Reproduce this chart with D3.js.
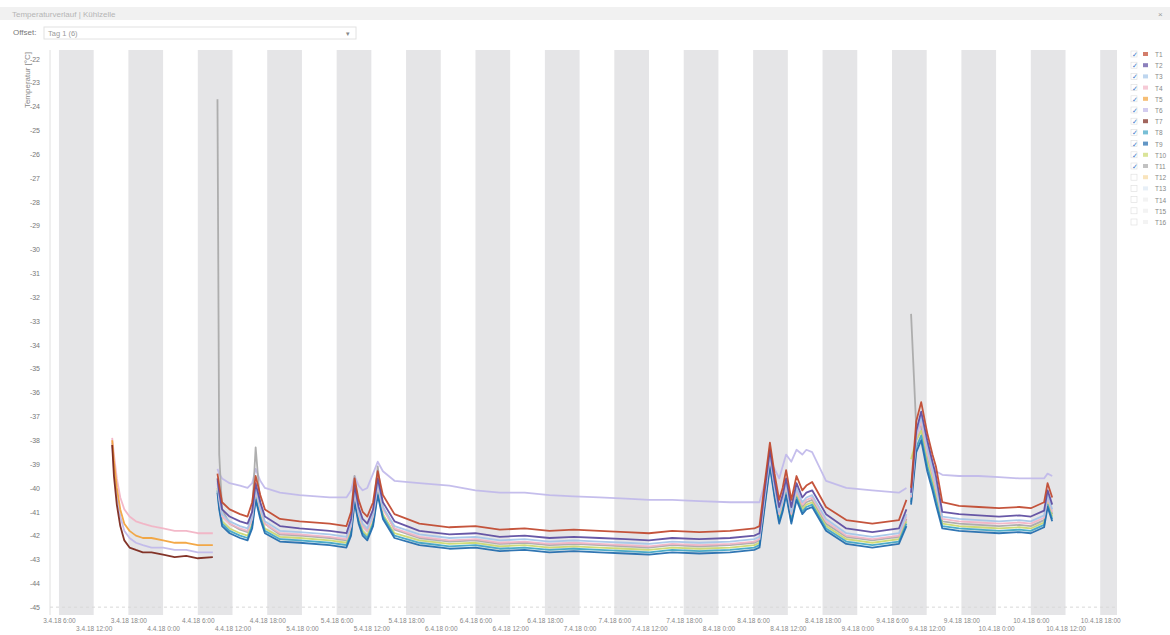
<!DOCTYPE html>
<html>
<head>
<meta charset="utf-8">
<script src="https://cdn.jsdelivr.net/npm/d3@7"></script>
<style>
  body { margin: 0; background: #fff; font-family: "Liberation Sans", Arial, sans-serif; }
</style>
</head>
<body>
<svg id="chart" width="1170" height="635"></svg>
<script>
// hours after 3.4.18 0:00 (UTC)
const tA = [15.2, 15.5, 16.0, 16.6, 17.3, 18.2, 19.3, 20.5, 22, 24, 26, 28, 30, 32.6];
const tB = [33.4, 33.7, 34.2, 35.5, 37.3, 38.6, 39.4, 40.0, 40.8, 41.6,
            44.2, 47.6, 52.8, 55.7, 56.5, 57.1, 57.8, 58.5, 59.3, 60.3, 61.1, 62.0,
            64.0, 68.3, 73.5, 78.0, 82.2, 86.5, 90.8, 95.0, 99.4, 104.0, 108.0, 112.0, 116.7, 122.0, 126.2,
            127.1, 128.0, 128.9, 129.7, 130.5, 131.1, 131.7, 132.6, 133.5, 134.5, 135.2, 136.2, 138.6, 142.1, 146.6, 151.2, 152.5];
const tC = [153.3, 154.2, 155.05, 156.1, 157.0, 157.6, 158.7, 161.6, 165, 168.5, 172, 174, 176.3, 176.9, 177.7];

// first run
const pinkA     = [-37.9, -38.6, -39.6, -40.4, -40.9, -41.2, -41.4, -41.5, -41.6, -41.7, -41.8, -41.8, -41.9, -41.9];
const orangeA   = [-38.0, -38.9, -40.0, -40.9, -41.5, -41.8, -42.0, -42.1, -42.1, -42.2, -42.3, -42.3, -42.4, -42.4];
const lavenderA = [-38.1, -39.2, -40.3, -41.2, -41.8, -42.1, -42.3, -42.4, -42.5, -42.5, -42.6, -42.6, -42.7, -42.7];
const maroonA   = [-38.2, -39.5, -40.7, -41.6, -42.2, -42.5, -42.6, -42.7, -42.7, -42.8, -42.9, -42.85, -42.95, -42.9];

// second run
const redB = [-39.4, -39.9, -40.6, -40.9, -41.1, -41.2, -40.6, -39.5, -40.3, -40.9,
  -41.3, -41.4, -41.5, -41.6, -41.0, -39.6, -40.5, -41.0, -41.2, -40.6, -39.3, -40.3,
  -41.1, -41.5, -41.65, -41.6, -41.75, -41.7, -41.8, -41.75, -41.8, -41.85, -41.9, -41.8, -41.85, -41.8, -41.7,
  -41.6, -39.8, -38.1, -39.4, -40.5, -40.0, -39.25, -40.5, -39.5, -40.1, -39.9, -39.75, -40.8, -41.35, -41.5, -41.35, -40.5];
const indigoB = [-39.6, -40.2, -40.9, -41.2, -41.4, -41.5, -41.0, -39.8, -40.6, -41.2,
  -41.6, -41.7, -41.8, -41.9, -41.3, -39.9, -40.8, -41.3, -41.5, -40.9, -39.6, -40.6,
  -41.4, -41.8, -41.95, -41.9, -42.05, -42.0, -42.1, -42.05, -42.1, -42.15, -42.2, -42.1, -42.15, -42.1, -42.0,
  -41.9, -40.1, -38.4, -39.7, -40.8, -40.3, -39.6, -40.8, -39.8, -40.4, -40.2, -40.1, -41.1, -41.7, -41.85, -41.7, -40.9];
const lightBlueB = [-39.7, -40.4, -41.1, -41.4, -41.6, -41.7, -41.2, -40.0, -40.8, -41.4,
  -41.8, -41.85, -41.95, -42.05, -41.5, -40.1, -41.0, -41.5, -41.7, -41.1, -39.8, -40.8,
  -41.6, -41.95, -42.1, -42.05, -42.2, -42.15, -42.25, -42.2, -42.25, -42.3, -42.35, -42.25, -42.3, -42.25, -42.15,
  -42.05, -40.3, -38.6, -39.9, -41.0, -40.5, -39.8, -41.0, -40.0, -40.6, -40.4, -40.3, -41.3, -41.9, -42.05, -41.9, -41.1];
const pinkB = [-39.8, -40.5, -41.2, -41.5, -41.7, -41.8, -41.3, -40.1, -40.9, -41.5,
  -41.9, -41.95, -42.05, -42.15, -41.6, -40.2, -41.1, -41.6, -41.8, -41.2, -39.9, -40.9,
  -41.7, -42.05, -42.2, -42.15, -42.3, -42.25, -42.35, -42.3, -42.35, -42.4, -42.45, -42.35, -42.4, -42.35, -42.25,
  -42.15, -40.4, -38.7, -40.0, -41.1, -40.6, -39.9, -41.1, -40.1, -40.7, -40.5, -40.4, -41.4, -42.0, -42.15, -42.0, -41.2];
const greyB = [-23.7, -38.6, -40.9, -41.5, -41.75, -41.85, -41.0, -38.3, -40.7, -41.5,
  -41.95, -42.0, -42.1, -42.2, -41.5, -39.5, -41.0, -41.6, -41.8, -41.0, -39.1, -40.8,
  -41.75, -42.1, -42.25, -42.2, -42.35, -42.3, -42.4, -42.35, -42.4, -42.45, -42.5, -42.4, -42.45, -42.4, -42.3,
  -42.2, -40.2, -38.3, -40.0, -41.2, -40.6, -39.9, -41.2, -40.1, -40.8, -40.6, -40.5, -41.5, -42.05, -42.2, -42.05, -41.3];
const limeB = [-40.0, -40.7, -41.4, -41.7, -41.9, -42.0, -41.5, -40.3, -41.1, -41.7,
  -42.05, -42.1, -42.2, -42.3, -41.8, -40.4, -41.3, -41.8, -42.0, -41.4, -40.1, -41.1,
  -41.9, -42.2, -42.35, -42.3, -42.45, -42.4, -42.5, -42.45, -42.5, -42.55, -42.6, -42.5, -42.55, -42.5, -42.4,
  -42.3, -40.6, -38.9, -40.2, -41.3, -40.8, -40.1, -41.3, -40.3, -40.9, -40.7, -40.6, -41.6, -42.15, -42.3, -42.15, -41.4];
const tealB = [-40.1, -40.8, -41.5, -41.8, -42.0, -42.1, -41.6, -40.4, -41.2, -41.8,
  -42.15, -42.2, -42.3, -42.4, -41.9, -40.5, -41.4, -41.9, -42.1, -41.5, -40.2, -41.2,
  -42.0, -42.3, -42.45, -42.4, -42.55, -42.5, -42.6, -42.55, -42.6, -42.65, -42.7, -42.6, -42.65, -42.6, -42.5,
  -42.4, -40.7, -39.0, -40.3, -41.4, -40.9, -40.2, -41.4, -40.4, -41.0, -40.8, -40.7, -41.7, -42.25, -42.4, -42.25, -41.5];
const blueB = [-40.2, -40.9, -41.6, -41.9, -42.1, -42.2, -41.7, -40.5, -41.3, -41.9,
  -42.25, -42.3, -42.4, -42.5, -42.0, -40.6, -41.5, -42.0, -42.2, -41.6, -40.3, -41.3,
  -42.1, -42.4, -42.55, -42.5, -42.65, -42.6, -42.7, -42.65, -42.7, -42.75, -42.8, -42.7, -42.75, -42.7, -42.6,
  -42.5, -40.8, -39.1, -40.4, -41.5, -41.0, -40.3, -41.5, -40.5, -41.1, -40.9, -40.8, -41.8, -42.35, -42.5, -42.35, -41.6];
const lavenderB = [-39.2, -39.4, -39.6, -39.8, -39.9, -40.0, -39.8, -39.2, -39.7, -40.0,
  -40.2, -40.3, -40.4, -40.4, -40.1, -39.5, -39.9, -40.1, -40.0, -39.4, -38.9, -39.3,
  -39.7, -39.8, -39.9, -40.1, -40.2, -40.2, -40.3, -40.35, -40.4, -40.45, -40.5, -40.5, -40.55, -40.6, -40.6,
  -40.6, -39.8, -38.9, -39.2, -39.6, -39.1, -38.6, -38.9, -38.4, -38.6, -38.4, -38.5, -39.7, -40.0, -40.1, -40.2, -40.0];

// third run
const redC       = [-40.0, -37.2, -36.4, -37.7, -38.6, -39.1, -40.6, -40.75, -40.8, -40.85, -40.8, -40.85, -40.6, -39.8, -40.4];
const indigoC    = [-40.2, -37.6, -36.8, -38.0, -38.9, -39.5, -41.0, -41.1, -41.15, -41.2, -41.15, -41.2, -40.95, -40.1, -40.7];
const lightBlueC = [-40.3, -37.8, -37.0, -38.3, -39.2, -39.8, -41.2, -41.3, -41.35, -41.4, -41.35, -41.4, -41.15, -40.3, -40.9];
const pinkC      = [-40.4, -37.9, -37.2, -38.5, -39.4, -40.0, -41.3, -41.4, -41.45, -41.5, -41.45, -41.5, -41.25, -40.4, -41.0];
const greyC      = [-32.7, -37.5, -37.4, -38.7, -39.5, -40.1, -41.4, -41.5, -41.55, -41.6, -41.55, -41.6, -41.35, -40.5, -41.1];
const limeC      = [-38.8, -38.0, -37.6, -38.9, -39.7, -40.3, -41.5, -41.6, -41.65, -41.7, -41.65, -41.7, -41.45, -40.6, -41.2];
const tealC      = [-40.6, -38.3, -37.8, -39.1, -39.9, -40.5, -41.6, -41.7, -41.75, -41.8, -41.75, -41.8, -41.55, -40.7, -41.3];
const blueC      = [-40.7, -38.5, -38.0, -39.3, -40.1, -40.7, -41.7, -41.8, -41.85, -41.9, -41.85, -41.9, -41.65, -40.8, -41.4];
const lavenderC  = [-40.2, -38.0, -37.5, -38.2, -39.0, -39.3, -39.45, -39.5, -39.5, -39.55, -39.6, -39.6, -39.6, -39.4, -39.5];

const legendNames  = ['T1', 'T2', 'T3', 'T4', 'T5', 'T6', 'T7', 'T8', 'T9', 'T10', 'T11', 'T12', 'T13', 'T14', 'T15', 'T16'];
const legendColors = ['#c0462c', '#5b4aa0', '#a3c4e8', '#f2b3c4', '#f2a23a', '#c0b8ea', '#7a2418', '#3ea4c4',
                      '#1f6aad', '#cbd86e', '#a8a8a8', '#f6d9a0', '#dde8f4', '#eeeeee', '#eeeeee', '#eeeeee'];
const legendChecked = [true, true, true, true, true, true, true, true, true, true, true, false, false, false, false, false];
const yTicks = d3.range(-45, -21);

// draw order: back to front
const series = [
  { color: '#c0b8ea', parts: [[tA, lavenderA], [tB, lavenderB], [tC, lavenderC]] },
  { color: '#a8a8a8', parts: [[tB, greyB], [tC, greyC]] },
  { color: '#cbd86e', parts: [[tB, limeB], [tC, limeC]] },
  { color: '#3ea4c4', parts: [[tB, tealB], [tC, tealC]] },
  { color: '#1f6aad', parts: [[tB, blueB], [tC, blueC]] },
  { color: '#f2b3c4', parts: [[tA, pinkA], [tB, pinkB], [tC, pinkC]] },
  { color: '#f2a23a', parts: [[tA, orangeA]] },
  { color: '#7a2418', parts: [[tA, maroonA]] },
  { color: '#a3c4e8', parts: [[tB, lightBlueB], [tC, lightBlueC]] },
  { color: '#5b4aa0', parts: [[tB, indigoB], [tC, indigoC]] },
  { color: '#c0462c', parts: [[tB, redB], [tC, redC]] }
];

const base = Date.UTC(2018, 3, 3);
const toDate = h => new Date(base + h * 3600e3);

const margin = { top: 50, right: 53, bottom: 20, left: 50 };
const W = 1170, H = 635;
const svg = d3.select('#chart');

// header
svg.append('rect').attr('x', 0).attr('y', 7).attr('width', W).attr('height', 13).attr('fill', '#f1f1f1');
svg.append('text').attr('x', 12).attr('y', 17).attr('font-size', 8).attr('fill', '#b5b5b5')
  .text('Temperaturverlauf | Kühlzelle');
svg.append('text').attr('x', 1158).attr('y', 17).attr('font-size', 8).attr('fill', '#999').text('×');
svg.append('text').attr('x', 13).attr('y', 35).attr('font-size', 8).attr('fill', '#777').text('Offset:');
svg.append('rect').attr('x', 44).attr('y', 27).attr('width', 312).attr('height', 12)
  .attr('fill', '#fff').attr('stroke', '#e2e2e2');
svg.append('text').attr('x', 48).attr('y', 35.5).attr('font-size', 7.5).attr('fill', '#999').text('Tag 1 (6)');
svg.append('text').attr('x', 346).attr('y', 35.5).attr('font-size', 7).attr('fill', '#888').text('▾');

const x = d3.scaleUtc()
  .domain([toDate(4.45), toDate(188.9)])
  .range([margin.left, W - margin.right]);
const y = d3.scaleLinear()
  .domain([-45.33, -21.63])
  .range([H - margin.bottom, margin.top]);

// shaded 6-hour bands
const bands = [];
for (let day = 0; day < 8; day++) {
  bands.push([day * 24 + 6, day * 24 + 12]);
  bands.push([day * 24 + 18, day * 24 + 24]);
}
svg.append('g').selectAll('rect')
    .data(bands)
  .enter().append('rect')
    .attr('x', d => Math.max(x(toDate(d[0])), margin.left))
    .attr('width', d => Math.max(0, Math.min(x(toDate(d[1])), W - margin.right) - Math.max(x(toDate(d[0])), margin.left)))
    .attr('y', margin.top)
    .attr('height', H - margin.bottom - margin.top)
    .attr('fill', '#e5e5e7');

svg.append('line')
  .attr('x1', margin.left).attr('x2', margin.left)
  .attr('y1', margin.top).attr('y2', H - margin.bottom)
  .attr('stroke', '#e0e0e0');
svg.append('line')
  .attr('x1', margin.left).attr('x2', W - margin.right)
  .attr('y1', y(-45)).attr('y2', y(-45))
  .attr('stroke', '#d8d8d8').attr('stroke-dasharray', '3,3');

// y axis
const yAxis = d3.axisLeft(y).tickValues(yTicks).tickSize(0).tickPadding(10).tickFormat(d => String(d));
svg.append('g')
    .attr('transform', 'translate(' + margin.left + ',0)')
    .call(yAxis)
    .call(g => g.select('.domain').remove())
  .selectAll('text')
    .attr('font-size', 7)
    .attr('fill', '#777');

svg.append('text')
  .attr('transform', 'translate(30,52) rotate(-90)')
  .attr('text-anchor', 'end')
  .attr('font-size', 8)
  .attr('fill', '#888')
  .text('Temperatur [°C]');

// x axis, labels staggered on two rows
const fmt = d => d.getUTCDate() + '.' + (d.getUTCMonth() + 1) + '.18 ' + d.getUTCHours() + ':00';
const xAxis = d3.axisBottom(x).ticks(d3.utcHour.every(6)).tickSize(0).tickPadding(3).tickFormat(fmt);
svg.append('g')
    .attr('transform', 'translate(0,' + (H - margin.bottom) + ')')
    .call(xAxis)
    .call(g => g.select('.domain').remove())
  .selectAll('text')
    .attr('font-size', 6.5)
    .attr('fill', '#888')
    .attr('dy', (d, i) => i % 2 === 0 ? '0.71em' : '1.95em');

// lines
svg.append('clipPath').attr('id', 'plot')
  .append('rect').attr('x', margin.left).attr('y', margin.top)
  .attr('width', W - margin.left - margin.right).attr('height', H - margin.top - margin.bottom);

const line = d3.line()
  .x(d => x(toDate(d[0])))
  .y(d => y(d[1]));

const lines = svg.append('g').attr('clip-path', 'url(#plot)');
series.forEach(s => {
  s.parts.forEach(p => {
    const pts = p[0].map((t, i) => [t, p[1][i]]);
    lines.append('path')
      .datum(pts)
      .attr('d', line)
      .attr('fill', 'none')
      .attr('stroke', s.color)
      .attr('stroke-width', 1.8)
      .attr('stroke-linejoin', 'round')
      .attr('opacity', 0.92);
  });
});

// legend
const legend = svg.selectAll('.legend')
    .data(legendNames)
  .enter().append('g')
    .attr('class', 'legend')
    .attr('transform', (d, i) => 'translate(1131,' + (55 + i * 11.2) + ')');
legend.append('rect')
  .attr('x', 0).attr('y', -4).attr('width', 6).attr('height', 6)
  .attr('fill', '#fff').attr('stroke', '#ddd').attr('stroke-width', 0.6);
legend.filter((d, i) => legendChecked[i]).append('text')
  .attr('x', 0.5).attr('y', 2).attr('font-size', 7).attr('fill', '#3a78c8').text('✓');
legend.append('rect')
  .attr('x', 12).attr('y', -3).attr('width', 5).attr('height', 4)
  .attr('fill', (d, i) => legendColors[i]).attr('opacity', 0.7);
legend.append('text')
  .attr('x', 24).attr('y', 2).attr('font-size', 6.5).attr('fill', '#888')
  .text(d => d);
</script>
</body>
</html>
